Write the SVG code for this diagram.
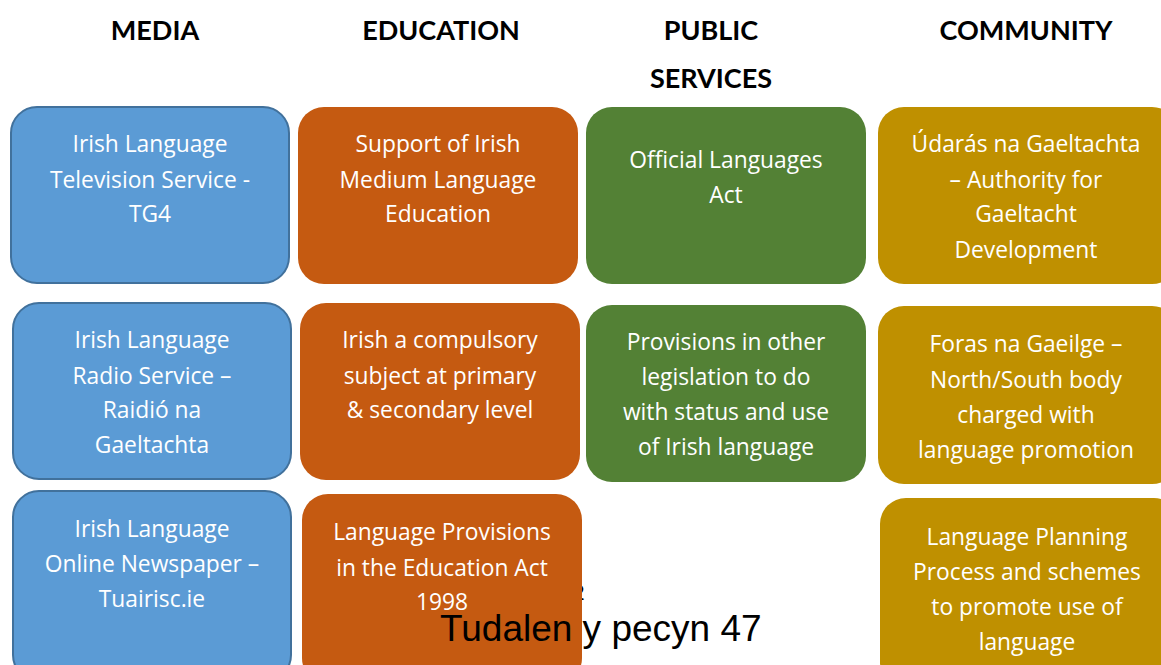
<svg xmlns="http://www.w3.org/2000/svg" width="1161" height="665" viewBox="0 0 1161 665">
  <style>
    .hdr { font-family: Lato, "Open Sans", sans-serif; font-weight: bold; font-size: 27px; fill: #000; text-anchor: middle; }
    .lbl { font-family: "Open Sans", Lato, sans-serif; font-size: 22.8px; fill: #fff; text-anchor: middle; }
    .media { fill: #5b9bd5; stroke: #41719c; stroke-width: 2; }
    .edu { fill: #c55a11; }
    .pub { fill: #538135; }
    .com { fill: #bf9000; }
    .foot { font-family: "Liberation Sans", Arial, sans-serif; font-size: 37px; fill: #000; }
    .pg { font-family: Lato, sans-serif; font-size: 22px; fill: #000; }
  </style>
  <rect width="1161" height="665" fill="#fff"/>

  <!-- column headings -->
  <g id="headings">
    <text class="hdr" x="155" y="40">MEDIA</text>
    <text class="hdr" x="441" y="40">EDUCATION</text>
    <text class="hdr" x="711" y="40">PUBLIC</text>
    <text class="hdr" x="711" y="88">SERVICES</text>
    <text class="hdr" x="1026" y="40">COMMUNITY</text>
  </g>

  <!-- page number sitting behind the lower boxes -->
  <text class="pg" x="572" y="600">2</text>

  <!-- MEDIA -->
  <g id="media-tg4">
    <rect class="media" x="11" y="107" width="278" height="176" rx="26"/>
    <text class="lbl" x="150" y="152">Irish Language</text>
    <text class="lbl" x="150" y="188">Television Service -</text>
    <text class="lbl" x="150" y="222">TG4</text>
  </g>
  <g id="media-radio">
    <rect class="media" x="13" y="303" width="278" height="176" rx="26"/>
    <text class="lbl" x="152" y="348">Irish Language</text>
    <text class="lbl" x="152" y="384">Radio Service –</text>
    <text class="lbl" x="152" y="418">Raidió na</text>
    <text class="lbl" x="152" y="453">Gaeltachta</text>
  </g>
  <g id="media-online">
    <rect class="media" x="13" y="491" width="278" height="190" rx="26"/>
    <text class="lbl" x="152" y="537">Irish Language</text>
    <text class="lbl" x="152" y="572">Online Newspaper –</text>
    <text class="lbl" x="152" y="607">Tuairisc.ie</text>
  </g>

  <!-- EDUCATION -->
  <g id="edu-support">
    <rect class="edu" x="298" y="107" width="280" height="177" rx="26"/>
    <text class="lbl" x="438" y="152">Support of Irish</text>
    <text class="lbl" x="438" y="188">Medium Language</text>
    <text class="lbl" x="438" y="222">Education</text>
  </g>
  <g id="edu-compulsory">
    <rect class="edu" x="300" y="303" width="280" height="177" rx="26"/>
    <text class="lbl" x="440" y="348">Irish a compulsory</text>
    <text class="lbl" x="440" y="384">subject at primary</text>
    <text class="lbl" x="440" y="418">&amp; secondary level</text>
  </g>
  <g id="edu-act">
    <rect class="edu" x="302" y="494" width="280" height="190" rx="26"/>
    <text class="lbl" x="442" y="540">Language Provisions</text>
    <text class="lbl" x="442" y="576">in the Education Act</text>
    <text class="lbl" x="442" y="610">1998</text>
  </g>

  <!-- PUBLIC SERVICES -->
  <g id="pub-act">
    <rect class="pub" x="586" y="107" width="280" height="177" rx="26"/>
    <text class="lbl" x="726" y="168">Official Languages</text>
    <text class="lbl" x="726" y="203">Act</text>
  </g>
  <g id="pub-provisions">
    <rect class="pub" x="586" y="305" width="280" height="177" rx="26"/>
    <text class="lbl" x="726" y="350">Provisions in other</text>
    <text class="lbl" x="726" y="385">legislation to do</text>
    <text class="lbl" x="726" y="420">with status and use</text>
    <text class="lbl" x="726" y="455">of Irish language</text>
  </g>

  <!-- COMMUNITY -->
  <g id="com-udaras">
    <rect class="com" x="878" y="107" width="300" height="177" rx="26"/>
    <text class="lbl" x="1026" y="152">Údarás na Gaeltachta</text>
    <text class="lbl" x="1026" y="188">– Authority for</text>
    <text class="lbl" x="1026" y="222">Gaeltacht</text>
    <text class="lbl" x="1026" y="258">Development</text>
  </g>
  <g id="com-foras">
    <rect class="com" x="878" y="306" width="300" height="178" rx="26"/>
    <text class="lbl" x="1026" y="352">Foras na Gaeilge –</text>
    <text class="lbl" x="1026" y="388">North/South body</text>
    <text class="lbl" x="1026" y="423">charged with</text>
    <text class="lbl" x="1026" y="458">language promotion</text>
  </g>
  <g id="com-planning">
    <rect class="com" x="880" y="498" width="300" height="190" rx="26"/>
    <text class="lbl" x="1027" y="545">Language Planning</text>
    <text class="lbl" x="1027" y="580">Process and schemes</text>
    <text class="lbl" x="1027" y="615">to promote use of</text>
    <text class="lbl" x="1027" y="650">language</text>
  </g>

  <!-- connectors: none in this layout -->
  <g id="connectors"/>

  <!-- page footer -->
  <text class="foot" x="440" y="641">Tudalen y pecyn 47</text>
</svg>
